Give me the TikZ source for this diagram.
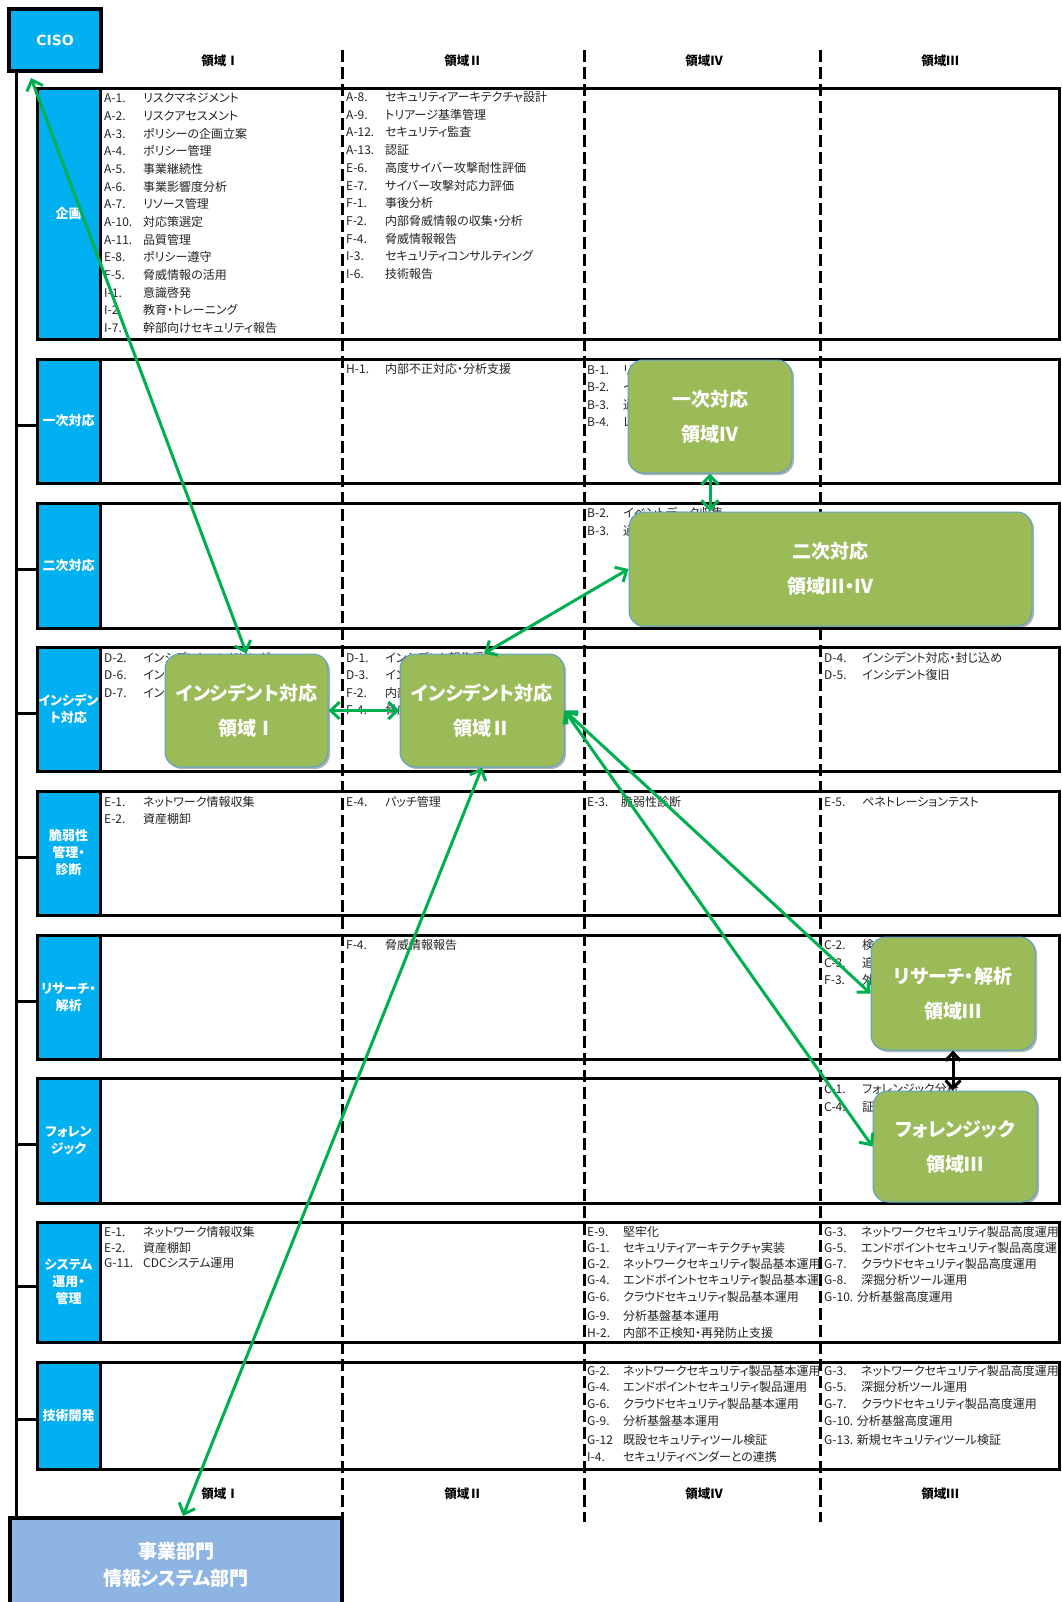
\documentclass[tikz,border=0pt]{standalone}
\usepackage{fontspec}
\setmainfont{Noto Sans CJK JP}[RawFeature=+palt]
\newfontfamily\fwfont{Noto Sans CJK JP}
\newfontfamily\latinfont{DejaVu Sans}
\newcommand\rn[1]{{\fwfont #1}}
\usetikzlibrary{arrows.meta,shadows,calc}
\definecolor{cblue}{RGB}{0,176,240}
\definecolor{cgreen}{RGB}{155,187,89}
\definecolor{cedge}{RGB}{91,160,210}
\definecolor{carrow}{RGB}{0,176,80}
\definecolor{cbiz}{RGB}{141,180,226}
\definecolor{ctext}{RGB}{35,35,35}
\tikzset{
 vline/.style={line width=3pt, black},
 dline/.style={line width=3pt, black, dash pattern=on 12pt off 5pt},
 rowbox/.style={draw=black, line width=3pt, fill=white, inner sep=0pt, minimum width=1022pt},
 labcell/.style={draw=black, line width=3pt, fill=cblue, inner sep=0pt, minimum width=63pt, text=white, font=\bfseries\fontsize{13}{17}\selectfont, align=center},
 itm/.style={anchor=west, inner sep=0pt, text=ctext, font=\fontsize{12}{14}\selectfont},
 hdr/.style={inner sep=0pt, font=\bfseries\fontsize{12.5}{14}\selectfont},
 gbox/.style={rounded corners=15pt, fill=cgreen, draw=cedge, line width=1pt, text=white, align=center, inner sep=0pt, font=\bfseries\fontsize{19}{35}\selectfont, drop shadow={shadow xshift=2pt, shadow yshift=-2pt, opacity=0.3, fill=black}},
 garrow/.style={draw=carrow, line width=3pt, {Straight Barb[length=9pt,width=17pt]}-{Straight Barb[length=9pt,width=17pt]}},
 karrow/.style={draw=black, line width=3pt, {Straight Barb[length=8pt,width=15pt]}-{Straight Barb[length=8pt,width=15pt]}},
}
% list of y/num/text items at column x with tab width
\newcommand\itmabs[4]{%
 \foreach \yy/\inum/\itxt [count=\k] in {#4} {%
  \node[itm] (#1-\k) at (#2,\yy) {\makebox[#3pt][l]{\inum}\itxt};}}
\begin{document}
\begin{tikzpicture}[x=1pt,y=-1pt]
\useasboundingbox (0,0) rectangle (1061,1602);
\fill[white] (0,0) rectangle (1061,1602);

% rows
\foreach \i/\tp/\bt/\lb in {1/89/339/企画, 2/359/483/一次対応, 3/503/628/二次対応,
  4/647/771/{インシデン\\ト対応}, 5/791/915/{脆弱性\\管理・\\診断}, 6/935/1059/{リサーチ・\\解析},
  7/1078/1203/{フォレン\\ジック}, 8/1222/1342/{システム\\運用・\\管理}, 9/1362/1469/技術開発} {
  \pgfmathsetmacro\hh{\bt-\tp}
  \node[rowbox, minimum height=\hh pt] (row\i) at (548,{(\tp+\bt)/2}) {};
  \node[labcell, minimum height=\hh pt] (lab\i) at (68.5,{(\tp+\bt)/2}) {\lb};
}

% CISO and business box
\node[draw=black, line width=4pt, fill=cblue, minimum width=92pt, minimum height=62pt, inner sep=0pt,
  text=white, font=\latinfont\bfseries\fontsize{14}{16}\selectfont] (ciso) at (55,40) {CISO};
\node[draw=black, line width=4pt, fill=cbiz, minimum width=332pt, minimum height=94pt, inner sep=0pt,
  text=white, align=center, font=\bfseries\fontsize{19}{27}\selectfont] (biz) at (176,1565) {事業部門\\情報システム部門};

% main vertical line and ticks
\coordinate (vtop) at ($(ciso.south west)+(9,0)$);
\coordinate (vbot) at ($(biz.north west)+(8,0)$);
\draw[vline] (vtop) -- (vbot);
\foreach \i in {2,...,9} { \draw[vline] ([yshift=-4pt]lab\i.west) -- ([yshift=-4pt]lab\i.west -| vtop); }

% column dashed lines
\draw[dline] (342,50) -- (342,1518);
\draw[dline] (584,50) -- (584,1522);
\draw[dline] (820,50) -- (820,1522);

% headers
\node[hdr] (h1) at (220,61) {領域\rn{Ⅰ}};
\node[hdr] (h2) at (463,61) {領域\rn{Ⅱ}};
\node[hdr] (h4) at (704,61) {領域\rn{Ⅳ}};
\node[hdr] (h3) at (940,61) {領域\rn{Ⅲ}};
\node[hdr] (f1) at (220,1494) {領域\rn{Ⅰ}};
\node[hdr] (f2) at (463,1494) {領域\rn{Ⅱ}};
\node[hdr] (f4) at (704,1494) {領域\rn{Ⅳ}};
\node[hdr] (f3) at (940,1494) {領域\rn{Ⅲ}};

% row 1
\itmabs{r1a}{104}{39}{98/A-1./リスクマネジメント, 115.7/A-2./リスクアセスメント, 133.4/A-3./ポリシーの企画立案,
 151.1/A-4./ポリシー管理, 168.8/A-5./事業継続性, 186.5/A-6./事業影響度分析, 204.2/A-7./リソース管理,
 221.9/A-10./対応策選定, 239.6/A-11./品質管理, 257.3/E-8./ポリシー遵守, 275/F-5./脅威情報の活用,
 292.7/I-1./意識啓発, 310.4/I-2./教育・トレーニング, 328.1/I-7./幹部向けセキュリティ報告}
\itmabs{r1b}{346}{39}{97/A-8./セキュリティアーキテクチャ設計, 114.7/A-9./トリアージ基準管理, 132.4/A-12./セキュリティ監査,
 150.1/A-13./認証, 167.8/E-6./高度サイバー攻撃耐性評価, 185.5/E-7./サイバー攻撃対応力評価, 203.2/F-1./事後分析,
 220.9/F-2./内部脅威情報の収集・分析, 238.6/F-4./脅威情報報告, 256.3/I-3./セキュリティコンサルティング, 274/I-6./技術報告}
% row 2
\itmabs{r2b}{346}{39}{369/H-1./内部不正対応・分析支援}
\itmabs{r2c}{587}{36}{370/B-1./リアルタイム監視, 387.3/B-2./イベント監視, 404.6/B-3./通報受付, 422/B-4./レポート}
% row 3
\itmabs{r3c}{587}{36}{513/B-2./イベントデータ収集, 531/B-3./通報受付}
% row 4
\itmabs{r4a}{104}{39}{658/D-2./インシデントハンドリング, 675.3/D-6./インシデント調整, 692.6/D-7./インシデント通知}
\itmabs{r4b}{346}{39}{658/D-1./インシデント報告受付, 675.3/D-3./インシデント分析, 692.6/F-2./内部脅威情報の収集・分析, 710/F-4./脅威情報報告}
\itmabs{r4d}{824}{38}{658/D-4./インシデント対応・封じ込め, 675.3/D-5./インシデント復旧}
% row 5
\itmabs{r5a}{104}{39}{802/E-1./ネットワーク情報収集, 819.3/E-2./資産棚卸}
\itmabs{r5b}{346}{39}{802/E-4./パッチ管理}
\itmabs{r5c}{587}{34}{802/E-3./脆弱性診断}
\itmabs{r5d}{824}{38}{802/E-5./ペネトレーションテスト}
% row 6
\itmabs{r6b}{346}{39}{945/F-4./脅威情報報告}
\itmabs{r6d}{824}{38}{945/C-2./検体解析, 962.5/C-3./追跡調査, 980/F-3./外部脅威情報の収集}
% row 7
\itmabs{r7d}{824}{38}{1089/C-1./フォレンジック分析, 1107/C-4./証拠保全}
% row 8
\itmabs{r8a}{104}{39}{1232/E-1./ネットワーク情報収集, 1248/E-2./資産棚卸, 1263.5/G-11./CDCシステム運用}
\itmabs{r8c}{587}{36}{1232/E-9./堅牢化, 1248/G-1./セキュリティアーキテクチャ実装, 1263.5/G-2./ネットワークセキュリティ製品基本運用,
 1279.5/G-4./エンドポイントセキュリティ製品基本運, 1296.5/G-6./クラウドセキュリティ製品基本運用, 1315.5/G-9./分析基盤基本運用,
 1333/H-2./内部不正検知・再発防止支援}
\itmabs{r8d}{824}{37}{1232/G-3./ネットワークセキュリティ製品高度運用, 1248/G-5./エンドポイントセキュリティ製品高度運,
 1263.5/G-7./クラウドセキュリティ製品高度運用, 1279.5/G-8./深掘分析ツール運用}
\node[itm] (r8d-5) at (824,1296.5) {G-10. 分析基盤高度運用};
% row 9
\itmabs{r9c}{587}{36}{1371/G-2./ネットワークセキュリティ製品基本運用, 1386.5/G-4./エンドポイントセキュリティ製品運用,
 1403.5/G-6./クラウドセキュリティ製品基本運用, 1421/G-9./分析基盤基本運用, 1439.5/G-12/既設セキュリティツール検証,
 1457/I-4./セキュリティベンダーとの連携}
\itmabs{r9d}{824}{37}{1371/G-3./ネットワークセキュリティ製品高度運用, 1386.5/G-5./深掘分析ツール運用,
 1403.5/G-7./クラウドセキュリティ製品高度運用}
\node[itm] (r9d-4) at (824,1421) {G-10. 分析基盤高度運用};
\node[itm] (r9d-5) at (824,1439.5) {G-13. 新規セキュリティツール検証};

% green boxes
\node[gbox, minimum width=164pt, minimum height=113pt] (ichiji) at (710,416.5) {一次対応\\領域\rn{Ⅳ}};
\node[gbox, minimum width=403pt, minimum height=114pt] (niji) at (830.5,569) {二次対応\\領域\rn{Ⅲ}・\rn{Ⅳ}};
\node[gbox, minimum width=163pt, minimum height=113pt] (inc1) at (246.5,710.5) {インシデント対応\\領域\rn{Ⅰ}};
\node[gbox, minimum width=164pt, minimum height=113pt] (inc2) at (482,710.5) {インシデント対応\\領域\rn{Ⅱ}};
\node[gbox, minimum width=164pt, minimum height=113pt] (research) at (953,993.5) {リサーチ・解析\\領域\rn{Ⅲ}};
\node[gbox, minimum width=164pt, minimum height=111pt] (forensic) at (955,1146.5) {フォレンジック\\領域\rn{Ⅲ}};

% arrows
\coordinate (cisoTip) at ($(ciso.south west)+(24,5)$);
\coordinate (bizTip) at ($(biz.north)+(7,0)$);
\draw[garrow] (cisoTip) -- (inc1.north);
\draw[garrow] (ichiji.south) -- (ichiji.south |- niji.north);
\draw[garrow] (niji.west) -- ([xshift=2pt]inc2.north);
\draw[garrow] (inc1.east) -- (inc2.west);
\draw[garrow] (inc2.east) -- (research.west);
\draw[garrow] (inc2.east) -- (forensic.west);
\draw[garrow] (bizTip) -- (inc2.south);
\draw[karrow] (research.south) -- (research.south |- forensic.north);
\end{tikzpicture}
\end{document}
